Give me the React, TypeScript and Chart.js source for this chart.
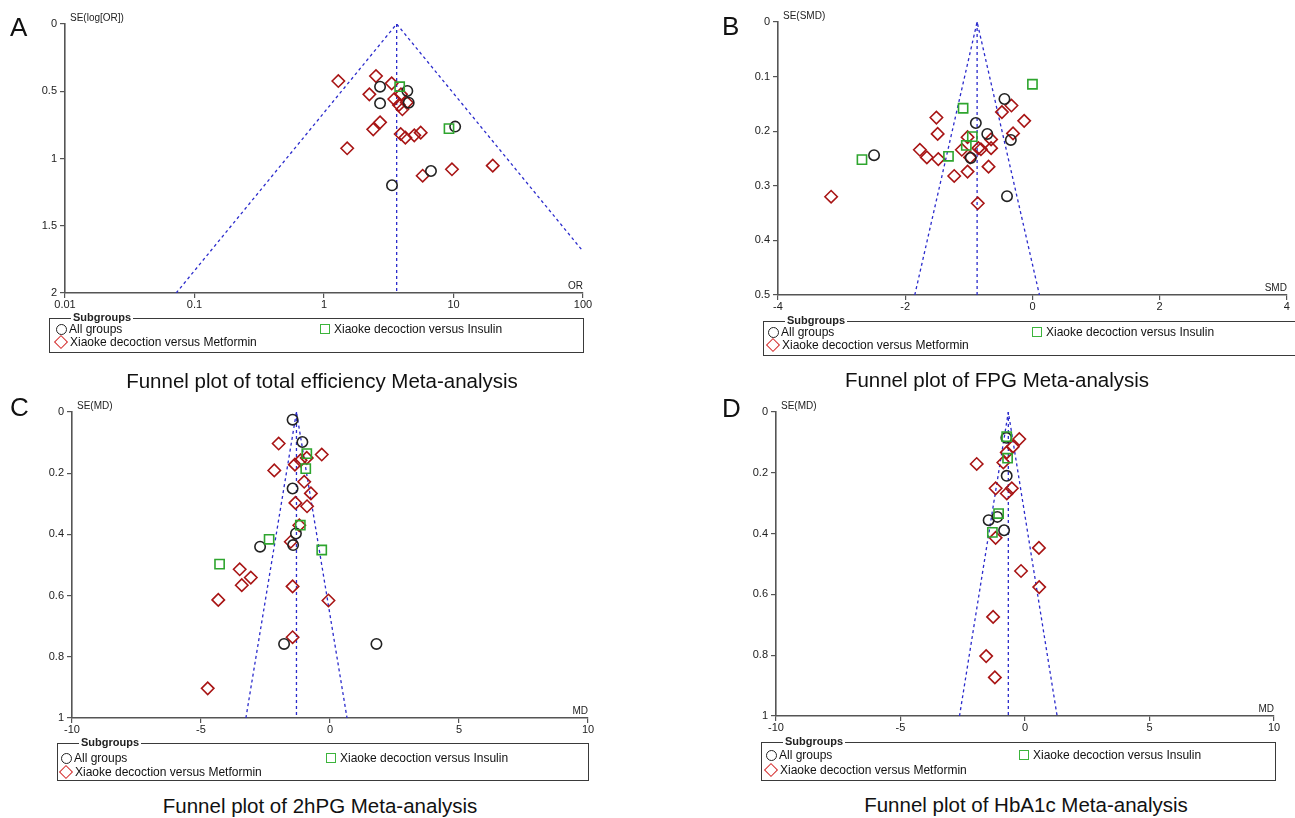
import React, { useEffect, useRef } from "react";
import { Chart, registerables } from "chart.js";

Chart.register(...registerables);

const FONT = "'Liberation Sans', Arial, Helvetica, sans-serif";

// ---------- Panel A: total efficiency (OR, log scale) ----------
const A_X_TICKS = [0.01, 0.1, 1, 10, 100];
const A_ALL_OR = [2.71, 4.4, 2.71, 4.51, 10.3, 6.7, 3.35];
const A_ALL_SE = [0.466, 0.498, 0.59, 0.585, 0.763, 1.093, 1.199];
const A_MET_OR = [1.29, 2.52, 3.33, 2.24, 3.49, 3.93, 3.79, 4.03, 4.36, 2.71, 2.4, 3.91, 4.25, 4.98, 5.58, 1.51, 5.78, 9.73, 20.1];
const A_MET_SE = [0.424, 0.387, 0.441, 0.523, 0.558, 0.523, 0.602, 0.634, 0.584, 0.731, 0.783, 0.818, 0.845, 0.828, 0.808, 0.924, 1.128, 1.08, 1.053];
const A_INS_OR = [3.84, 9.23];
const A_INS_SE = [0.466, 0.778];
const A_FUNNEL_X = [0.0722, 3.64, 100];
const A_FUNNEL_SE = [2, 0, 1.69];

// ---------- Panel B: FPG (SMD) ----------
const B_ALL_X = [-0.44, -0.89, -0.71, -0.34, -0.97, -0.4, -2.49];
const B_ALL_SE = [0.141, 0.185, 0.205, 0.216, 0.249, 0.319, 0.244];
const B_MET_X = [-1.51, -1.49, -1.77, -1.66, -1.48, -1.23, -1.02, -1.11, -1.02, -0.85, -0.81, -0.65, -0.65, -0.69, -0.86, -0.48, -0.33, -0.305, -0.13, -0.98, -3.165];
const B_MET_SE = [0.175, 0.205, 0.234, 0.248, 0.251, 0.282, 0.274, 0.234, 0.211, 0.231, 0.233, 0.215, 0.231, 0.265, 0.332, 0.165, 0.153, 0.204, 0.181, 0.248, 0.32];
const B_INS_X = [0.0, -1.09, -0.945, -1.04, -1.32, -2.68];
const B_INS_SE = [0.114, 0.158, 0.21, 0.226, 0.246, 0.252];
const B_FUNNEL_X = [-1.85, -0.87, 0.11];
const B_FUNNEL_SE = [0.5, 0, 0.5];

// ---------- Panel C: 2hPG (MD) ----------
const C_ALL_X = [-1.45, -1.07, -1.45, -1.32, -1.43, -2.71, -1.78, 1.8];
const C_ALL_SE = [0.025, 0.098, 0.25, 0.397, 0.435, 0.44, 0.758, 0.758];
const C_MET_X = [-1.99, -0.32, -0.9, -1.14, -1.36, -2.16, -1.0, -0.74, -1.34, -0.89, -1.19, -1.52, -3.5, -3.07, -3.42, -1.45, -4.33, -0.06, -1.45, -4.74];
const C_MET_SE = [0.103, 0.139, 0.15, 0.158, 0.172, 0.191, 0.228, 0.266, 0.297, 0.308, 0.37, 0.424, 0.514, 0.541, 0.566, 0.57, 0.614, 0.616, 0.736, 0.903];
const C_INS_X = [-0.9, -0.94, -1.15, -2.36, -0.32, -4.28];
const C_INS_SE = [0.136, 0.185, 0.37, 0.416, 0.451, 0.497];
const C_FUNNEL_X = [-3.26, -1.3, 0.66];
const C_FUNNEL_SE = [1, 0, 1];

// ---------- Panel D: HbA1c (MD) ----------
const D_ALL_X = [-0.735, -1.46, -1.11, -0.84, -0.75];
const D_ALL_SE = [0.21, 0.356, 0.345, 0.389, 0.085];
const D_MET_X = [-0.23, -0.49, -0.73, -0.87, -1.94, -1.18, -0.53, -0.73, -1.18, 0.56, -0.16, 0.57, -1.28, -1.56, -1.21];
const D_MET_SE = [0.089, 0.114, 0.133, 0.166, 0.171, 0.251, 0.251, 0.268, 0.414, 0.447, 0.523, 0.576, 0.674, 0.803, 0.873];
const D_INS_X = [-0.735, -0.7, -1.06, -1.31];
const D_INS_SE = [0.081, 0.152, 0.334, 0.396];
const D_FUNNEL_X = [-2.63, -0.67, 1.29];
const D_FUNNEL_SE = [1, 0, 1];

const LEGEND_LABELS = ["All groups", "Xiaoke decoction versus Metformin", "Xiaoke decoction versus Insulin"];

const COL_ALL = "#222222";
const COL_MET = "#a81414";
const COL_INS = "#2ea52e";
const COL_FUNNEL = "#2b2bcc";
const COL_AXIS = "#555555";

const zip = (xs: number[], ys: number[]) => xs.map((x, i) => ({ x, y: ys[i] }));
const fmt = (v: number) => String(Math.round(v * 1000) / 1000);

type PanelSpec = {
  cx: number; cy: number; cw: number; ch: number;
  l: number; t: number; r: number; b: number;
  xType: "linear" | "logarithmic";
  xMin: number; xMax: number; xStep?: number; xTicks?: number[];
  yMax: number; yStep: number;
  yTitle: string; xTitle: string;
  all: { x: number[]; y: number[] };
  met: { x: number[]; y: number[] };
  ins: { x: number[]; y: number[] };
  funnel: { x: number[]; y: number[] };
};

const WY = 40;
const HX = 20;

function FunnelPanel({ s }: { s: PanelSpec }) {
  const ref = useRef<HTMLCanvasElement>(null);
  useEffect(() => {
    const titles = {
      id: "axisTitles",
      afterDraw(chart: any) {
        const { ctx, chartArea: a } = chart;
        ctx.save();
        ctx.font = `10px ${FONT}`;
        ctx.fillStyle = "#222";
        ctx.textBaseline = "middle";
        ctx.textAlign = "left";
        ctx.fillText(s.yTitle, a.left + 5, a.top - 6);
        ctx.textAlign = "right";
        ctx.fillText(s.xTitle, a.right, a.bottom - 7);
        ctx.restore();
      },
    };
    const fixY = (sc: any) => {
      sc.width = WY;
      sc.paddingTop = 0; sc.paddingBottom = 0; sc.paddingLeft = 0; sc.paddingRight = 0;
    };
    const fixX = (sc: any) => {
      sc.height = HX;
      sc.paddingTop = 0; sc.paddingBottom = 0; sc.paddingLeft = 0; sc.paddingRight = 0;
    };
    const center = s.funnel.x[1];
    const seMax = s.yMax;
    const pointDs = (data: any[], style: string, color: string, radius: number) => ({
      data,
      showLine: false,
      pointStyle: style,
      pointRadius: radius,
      pointHoverRadius: radius,
      pointBorderColor: color,
      borderColor: color,
      pointBorderWidth: 1.6,
      pointBackgroundColor: "rgba(0,0,0,0)",
      backgroundColor: "rgba(0,0,0,0)",
    });
    const lineDs = (data: any[]) => ({
      data,
      showLine: true,
      borderColor: COL_FUNNEL,
      borderWidth: 1.3,
      borderDash: [3, 3],
      pointRadius: 0,
      fill: false,
      tension: 0,
    });
    const xScale: any = {
      type: s.xType,
      position: "bottom",
      min: s.xMin,
      max: s.xMax,
      afterFit: fixX,
      grid: { display: true, drawOnChartArea: false, drawTicks: true, tickLength: 5, color: COL_AXIS, lineWidth: 1.2 },
      border: { display: true, color: COL_AXIS, width: 1.6 },
      ticks: {
        color: "#222",
        font: { family: FONT, size: 11 },
        padding: 0,
        autoSkip: false,
        maxRotation: 0,
        callback: (v: any) => fmt(Number(v)),
      },
    };
    if (s.xTicks) {
      const tk = s.xTicks;
      xScale.afterBuildTicks = (sc: any) => { sc.ticks = tk.map((v) => ({ value: v })); };
    } else {
      xScale.ticks.stepSize = s.xStep;
    }
    const chart = new Chart(ref.current as HTMLCanvasElement, {
      type: "scatter",
      data: {
        datasets: [
          pointDs(zip(s.ins.x, s.ins.y), "rect", COL_INS, 6.5),
          pointDs(zip(s.all.x, s.all.y), "circle", COL_ALL, 5.2),
          pointDs(zip(s.met.x, s.met.y), "rectRot", COL_MET, 6.2),
          lineDs(zip(s.funnel.x, s.funnel.y)),
          lineDs([{ x: center, y: 0 }, { x: center, y: seMax }]),
        ] as any,
      },
      options: {
        animation: false,
        responsive: false,
        devicePixelRatio: 1,
        events: [],
        layout: {
          padding: {
            left: s.l - s.cx - WY,
            right: s.cx + s.cw - s.r,
            top: s.t - s.cy,
            bottom: s.cy + s.ch - s.b - HX,
          },
        },
        plugins: { legend: { display: false }, tooltip: { enabled: false } },
        scales: {
          x: xScale,
          y: {
            type: "linear",
            position: "left",
            reverse: true,
            min: 0,
            max: s.yMax,
            afterFit: fixY,
            grid: { display: true, drawOnChartArea: false, drawTicks: true, tickLength: 5, color: COL_AXIS, lineWidth: 1.2 },
            border: { display: true, color: COL_AXIS, width: 1.6 },
            ticks: {
              stepSize: s.yStep,
              color: "#222",
              font: { family: FONT, size: 11 },
              padding: 3,
              callback: (v: any) => fmt(Number(v)),
            },
          },
        },
      } as any,
      plugins: [titles],
    });
    return () => chart.destroy();
  }, []);
  return (
    <canvas
      ref={ref}
      width={s.cw}
      height={s.ch}
      style={{ position: "absolute", left: s.cx, top: s.cy, width: s.cw, height: s.ch }}
    />
  );
}

type LegendSpec = { l: number; t: number; r: number; b: number; row1: number; row2: number; symX: number; col2: number };

function SubLegend({ g }: { g: LegendSpec }) {
  const txt: React.CSSProperties = { position: "absolute", fontFamily: FONT, fontSize: 12, color: "#111", lineHeight: "14px", whiteSpace: "nowrap" };
  return (
    <>
      <div style={{ position: "absolute", left: g.l, top: g.t, width: g.r - g.l, height: g.b - g.t, border: "1.5px solid #3a3a3a", boxSizing: "border-box" }} />
      <div style={{ position: "absolute", left: g.l + 22, top: g.t - 7, padding: "0 2px", background: "#fff", fontFamily: FONT, fontSize: 11, fontWeight: "bold", color: "#222", lineHeight: "13px" }}>Subgroups</div>
      <div style={{ position: "absolute", left: g.symX - 5.5, top: g.t + g.row1 - 5.5, width: 11, height: 11, borderRadius: "50%", border: "1.4px solid #222", boxSizing: "border-box" }} />
      <div style={{ ...txt, left: g.symX + 8, top: g.t + g.row1 - 7 }}>{LEGEND_LABELS[0]}</div>
      <div style={{ position: "absolute", left: g.symX - 5, top: g.t + g.row2 - 5, width: 10, height: 10, transform: "rotate(45deg)", border: "1.4px solid #d42a2a", boxSizing: "border-box" }} />
      <div style={{ ...txt, left: g.symX + 9, top: g.t + g.row2 - 7 }}>{LEGEND_LABELS[1]}</div>
      <div style={{ position: "absolute", left: g.col2 - 5, top: g.t + g.row1 - 5, width: 10, height: 10, border: "1.4px solid #3cb43c", boxSizing: "border-box" }} />
      <div style={{ ...txt, left: g.col2 + 9, top: g.t + g.row1 - 7 }}>{LEGEND_LABELS[2]}</div>
    </>
  );
}

const PANELS: PanelSpec[] = [
  {
    cx: 0, cy: 0, cw: 600, ch: 318, l: 65, t: 24, r: 583, b: 293,
    xType: "logarithmic", xMin: 0.01, xMax: 100, xTicks: A_X_TICKS,
    yMax: 2, yStep: 0.5, yTitle: "SE(log[OR])", xTitle: "OR",
    all: { x: A_ALL_OR, y: A_ALL_SE }, met: { x: A_MET_OR, y: A_MET_SE }, ins: { x: A_INS_OR, y: A_INS_SE },
    funnel: { x: A_FUNNEL_X, y: A_FUNNEL_SE },
  },
  {
    cx: 640, cy: 0, cw: 655, ch: 318, l: 778, t: 22, r: 1295, b: 295,
    xType: "linear", xMin: -4, xMax: 4, xStep: 2,
    yMax: 0.5, yStep: 0.1, yTitle: "SE(SMD)", xTitle: "SMD",
    all: { x: B_ALL_X, y: B_ALL_SE }, met: { x: B_MET_X, y: B_MET_SE }, ins: { x: B_INS_X, y: B_INS_SE },
    funnel: { x: B_FUNNEL_X, y: B_FUNNEL_SE },
  },
  {
    cx: 0, cy: 395, cw: 600, ch: 345, l: 72, t: 412, r: 588, b: 718,
    xType: "linear", xMin: -10, xMax: 10, xStep: 5,
    yMax: 1, yStep: 0.2, yTitle: "SE(MD)", xTitle: "MD",
    all: { x: C_ALL_X, y: C_ALL_SE }, met: { x: C_MET_X, y: C_MET_SE }, ins: { x: C_INS_X, y: C_INS_SE },
    funnel: { x: C_FUNNEL_X, y: C_FUNNEL_SE },
  },
  {
    cx: 640, cy: 395, cw: 655, ch: 345, l: 776, t: 412, r: 1274, b: 716,
    xType: "linear", xMin: -10, xMax: 10, xStep: 5,
    yMax: 1, yStep: 0.2, yTitle: "SE(MD)", xTitle: "MD",
    all: { x: D_ALL_X, y: D_ALL_SE }, met: { x: D_MET_X, y: D_MET_SE }, ins: { x: D_INS_X, y: D_INS_SE },
    funnel: { x: D_FUNNEL_X, y: D_FUNNEL_SE },
  },
];

const LEGENDS: LegendSpec[] = [
  { l: 49, t: 318, r: 584, b: 353, row1: 11, row2: 24, symX: 61, col2: 325 },
  { l: 763, t: 321, r: 1300, b: 356, row1: 11, row2: 24, symX: 773, col2: 1037 },
  { l: 57, t: 743, r: 589, b: 781, row1: 15, row2: 29, symX: 66, col2: 331 },
  { l: 761, t: 742, r: 1276, b: 781, row1: 13, row2: 28, symX: 771, col2: 1024 },
];

const LETTERS = [
  { ch: "A", x: 10, y: 12 },
  { ch: "B", x: 722, y: 11 },
  { ch: "C", x: 10, y: 392 },
  { ch: "D", x: 722, y: 393 },
];

const TITLES = [
  { text: "Funnel plot of total efficiency Meta-analysis", cx: 322, cy: 381 },
  { text: "Funnel plot of FPG Meta-analysis", cx: 997, cy: 380 },
  { text: "Funnel plot of 2hPG Meta-analysis", cx: 320, cy: 806 },
  { text: "Funnel plot of HbA1c Meta-analysis", cx: 1026, cy: 805 },
];

export default function App() {
  return (
    <div style={{ position: "absolute", left: 0, top: 0, width: 1295, height: 818, background: "#fff", overflow: "hidden" }}>
      {PANELS.map((p, i) => (
        <FunnelPanel key={i} s={p} />
      ))}
      {LEGENDS.map((g, i) => (
        <SubLegend key={i} g={g} />
      ))}
      {LETTERS.map((L) => (
        <div key={L.ch} style={{ position: "absolute", left: L.x, top: L.y, fontFamily: FONT, fontSize: 26, lineHeight: "30px", color: "#111" }}>{L.ch}</div>
      ))}
      {TITLES.map((T, i) => (
        <div key={i} style={{ position: "absolute", left: T.cx - 320, top: T.cy - 13, width: 640, textAlign: "center", fontFamily: FONT, fontSize: 20.5, lineHeight: "26px", color: "#111", whiteSpace: "nowrap" }}>{T.text}</div>
      ))}
    </div>
  );
}
